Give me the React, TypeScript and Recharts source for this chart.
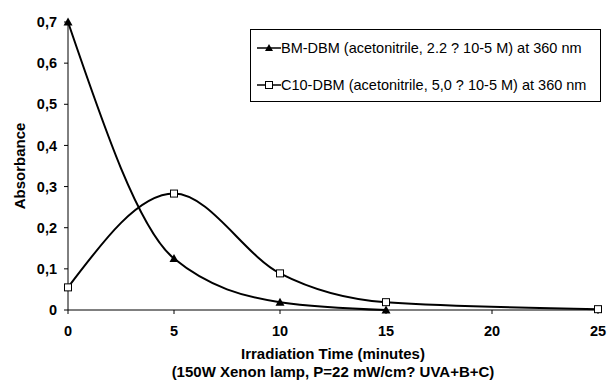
import { LineChart, Line, XAxis, YAxis, Legend, Label } from "recharts"

// irradiation time (minutes)
const bmTime = [0, 5, 10, 15]
const bmAbs = [0.7, 0.125, 0.019, 0]
const c10Time = [0, 5, 10, 15, 25]
const c10Abs = [0.055, 0.283, 0.089, 0.019, 0.002]

const xTicks = [0, 5, 10, 15, 20, 25]
const yTicks = [0, 0.1, 0.2, 0.3, 0.4, 0.5, 0.6, 0.7]

const bmName = "BM-DBM (acetonitrile, 2.2 ? 10-5 M) at 360 nm"
const c10Name = "C10-DBM (acetonitrile, 5,0 ? 10-5 M) at 360 nm"

const bmData = bmTime.map((t, i) => ({ t, v: bmAbs[i] }))
const c10Data = c10Time.map((t, i) => ({ t, v: c10Abs[i] }))

const font = "'Liberation Sans', Arial, sans-serif"
const tickStyle = { fill: "#000", fontSize: 14.5, fontWeight: "bold", fontFamily: font }

const Triangle = (p: any) => {
  const { cx, cy } = p
  if (cx == null || cy == null) return null
  return <path d={`M${cx},${cy - 4.5} L${cx + 4.5},${cy + 3.5} L${cx - 4.5},${cy + 3.5} Z`} fill="#000" />
}

const Square = (p: any) => {
  const { cx, cy } = p
  if (cx == null || cy == null) return null
  return <rect x={cx - 3.5} y={cy - 3.5} width={7} height={7} fill="#fff" stroke="#000" strokeWidth={1} />
}

const LegendBox = () => (
  <div
    style={{
      position: "absolute", left: 250, top: 29, width: 351, height: 73,
      border: "1px solid #000", background: "#fff", boxSizing: "border-box",
      fontFamily: font, fontSize: 14.5, color: "#000",
    }}
  >
    {[
      { name: bmName, top: 9, mark: "tri" },
      { name: c10Name, top: 46, mark: "sq" },
    ].map((r) => (
      <div key={r.name} style={{ position: "absolute", left: 6, top: r.top, height: 18, display: "flex", alignItems: "center", whiteSpace: "nowrap" }}>
        <svg width={24} height={16} style={{ display: "block" }}>
          <line x1={0} y1={8} x2={24} y2={8} stroke="#000" strokeWidth={1.5} />
          {r.mark === "tri"
            ? <path d="M12,4 L16,11 L8,11 Z" fill="#000" />
            : <rect x={8.5} y={4.5} width={7} height={7} fill="#fff" stroke="#000" />}
        </svg>
        <span>{r.name}</span>
      </div>
    ))}
  </div>
)

const XTitle = (props: any) => {
  const vb = props.viewBox
  const cx = vb.x + vb.width / 2
  return (
    <g fontFamily={font} fontWeight="bold" fontSize={15} fill="#000">
      <text x={cx} y={vb.y + 49} textAnchor="middle">Irradiation Time (minutes)</text>
      <text x={cx} y={vb.y + 67} textAnchor="middle">(150W Xenon lamp, P=22 mW/cm? UVA+B+C)</text>
    </g>
  )
}

export default function App() {
  return (
    <div style={{ position: "absolute", left: 0, top: 0, width: 607, height: 381, background: "#fff" }}>
      <LineChart width={607} height={381} margin={{ top: 22, right: 9, bottom: 0, left: 0 }}>
        <XAxis
          type="number"
          dataKey="t"
          domain={[0, 25]}
          ticks={xTicks}
          allowDuplicatedCategory={false}
          height={71}
          stroke="#000"
          tickSize={4}
          tickMargin={12}
          tick={tickStyle}
        >
          <Label content={<XTitle />} />
        </XAxis>
        <YAxis
          type="number"
          dataKey="v"
          domain={[0, 0.7]}
          ticks={yTicks}
          width={68}
          stroke="#000"
          tickSize={4}
          tickMargin={7}
          tickFormatter={(v: number) => (v === 0 ? "0" : v.toFixed(1).replace(".", ","))}
          tick={tickStyle}
        >
          <Label
            value="Absorbance"
            angle={-90}
            position="insideLeft"
            offset={20}
            style={{ textAnchor: "middle", fill: "#000", fontSize: 15, fontWeight: "bold", fontFamily: font }}
          />
        </YAxis>
        <Legend content={<LegendBox />} wrapperStyle={{ position: "absolute", left: 0, top: 0, width: 0, height: 0 }} />
        <Line
          data={bmData}
          dataKey="v"
          name={bmName}
          type="monotone"
          stroke="#000"
          strokeWidth={2}
          dot={<Triangle />}
          activeDot={false}
          isAnimationActive={false}
        />
        <Line
          data={c10Data}
          dataKey="v"
          name={c10Name}
          type="monotone"
          stroke="#000"
          strokeWidth={2}
          dot={<Square />}
          activeDot={false}
          isAnimationActive={false}
        />
      </LineChart>
    </div>
  )
}
